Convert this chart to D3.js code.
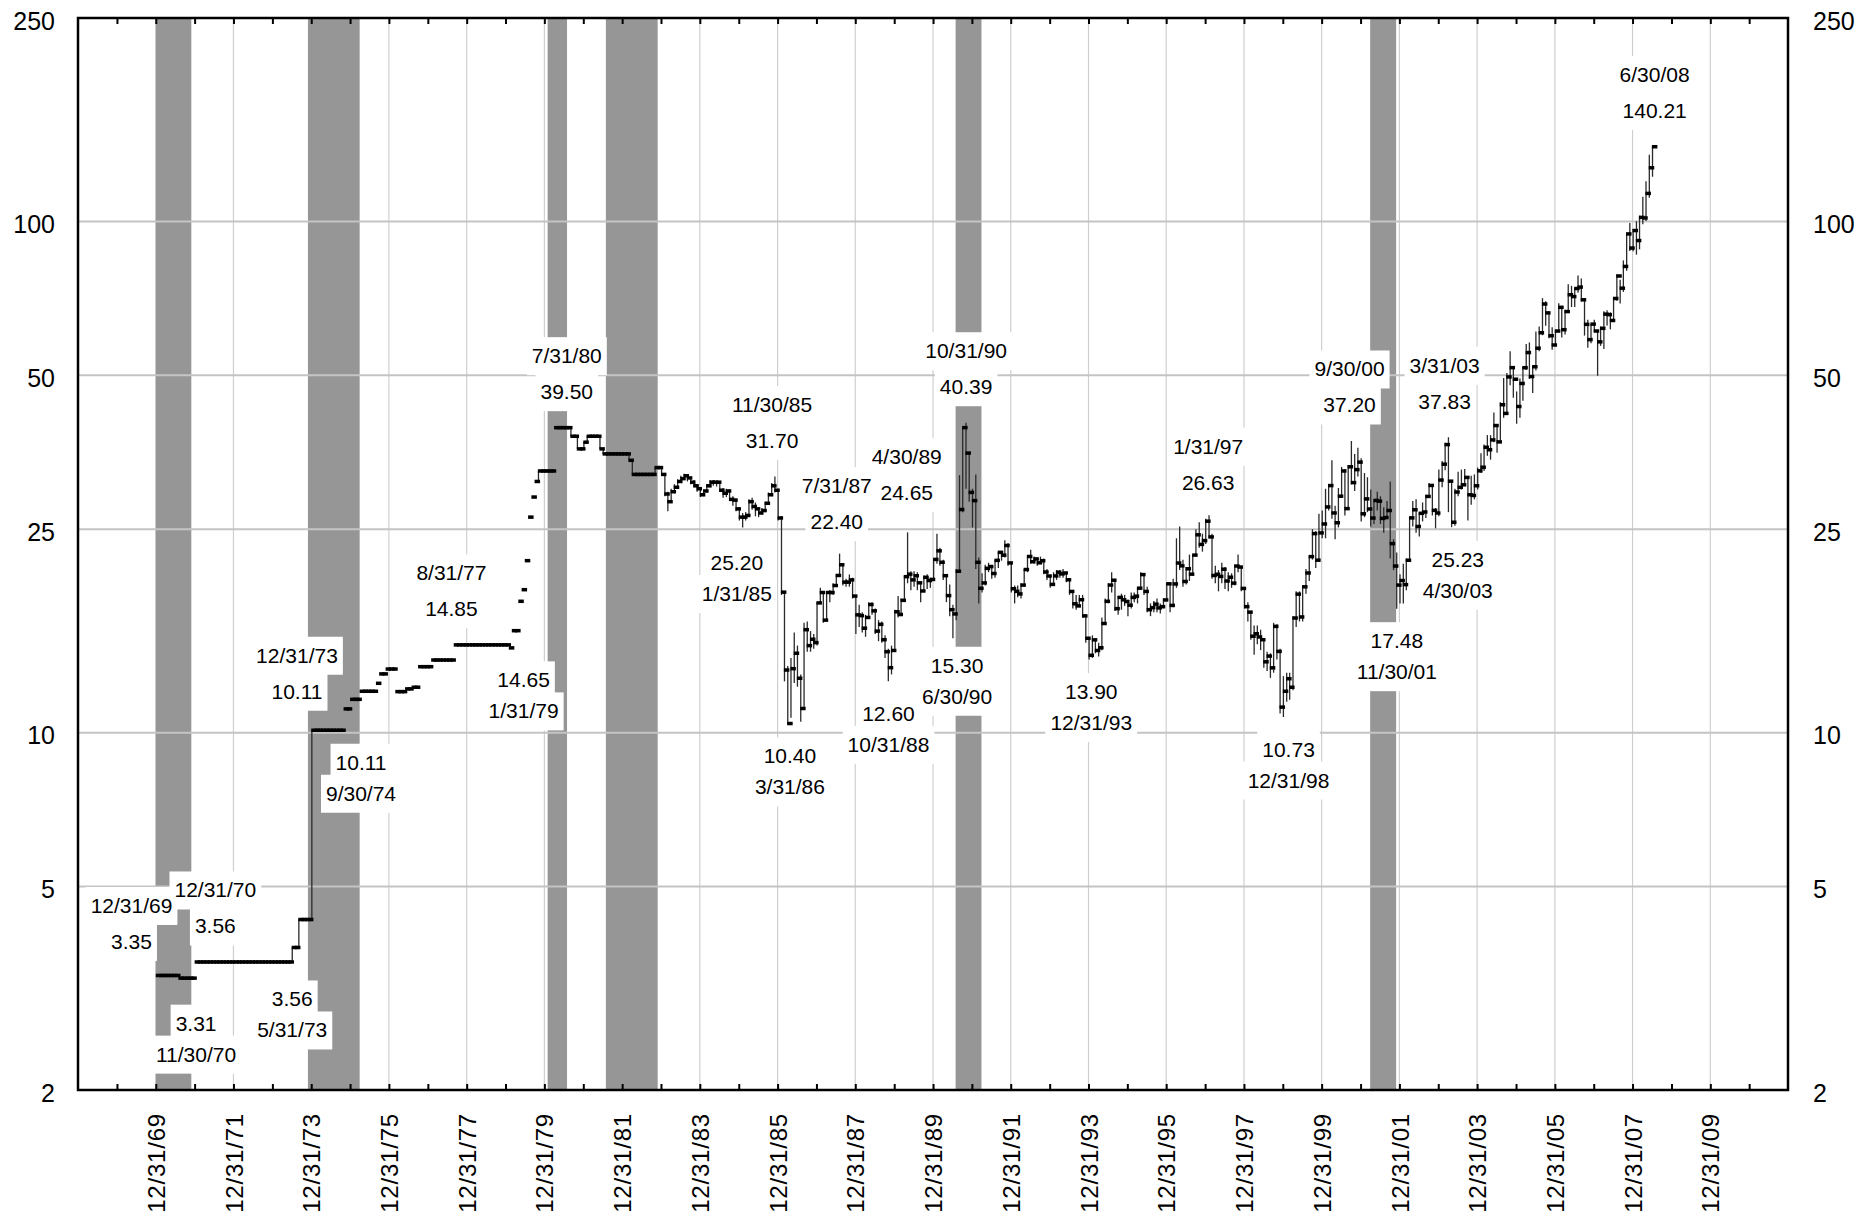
<!DOCTYPE html>
<html>
<head>
<meta charset="utf-8">
<script src="https://cdn.jsdelivr.net/npm/d3@7/dist/d3.min.js"></script>
<style>
  body { margin: 0; background: #fff; }
  svg { display: block; }
  text { font-family: "Liberation Sans", Arial, Helvetica, sans-serif; fill: #000; }
</style>
</head>
<body>
<svg id="chart" width="1860" height="1217"></svg>
<script>
// ---------------- DATA ----------------
// Monthly closing price, month-end, starting December 1969
const firstMonth = "1969-12";
const close = [
  3.35,
  3.35,3.35,3.35,3.35,3.35,3.35,3.31,3.31,3.31,3.31,3.31,3.56,
  3.56,3.56,3.56,3.56,3.56,3.56,3.56,3.56,3.56,3.56,3.56,3.56,
  3.56,3.56,3.56,3.56,3.56,3.56,3.56,3.56,3.56,3.56,3.56,3.56,
  3.56,3.56,3.56,3.56,3.56,3.80,3.80,4.31,4.31,4.31,4.31,10.11,
  10.11,10.11,10.11,10.11,10.11,10.11,10.11,10.11,10.11,11.13,11.13,11.62,
  11.62,11.62,12.05,12.05,12.05,12.05,12.05,12.49,13.03,13.03,13.32,13.32,
  13.32,12.03,12.03,12.03,12.18,12.18,12.27,12.27,13.46,13.46,13.46,13.46,
  13.87,13.87,13.87,13.87,13.87,13.87,13.87,14.85,14.85,14.85,14.85,14.85,
  14.85,14.85,14.85,14.85,14.85,14.85,14.85,14.85,14.85,14.85,14.85,14.85,
  14.65,15.83,15.83,18.07,19.04,21.70,26.40,28.90,31.00,32.50,32.50,32.50,
  32.50,32.50,39.50,39.50,39.50,39.50,39.50,38.00,38.00,35.90,35.90,37.00,
  38.00,38.00,38.00,38.00,35.90,35.10,35.10,35.10,35.10,35.10,35.10,35.10,
  35.10,34.10,32.00,32.00,32.00,32.00,32.00,32.00,32.00,33.00,33.00,32.00,
  29.3,28.3,29.6,30.2,31.0,31.4,31.8,31.5,30.9,30.4,30.0,29.2,
  29.7,30.4,30.9,30.9,30.9,29.8,29.4,29.7,28.6,28.5,27.4,26.4,
  26.4,26.6,28.3,27.7,27.4,26.9,27.2,28.1,29.2,30.4,29.8,26.3,
  18.83,13.26,10.42,13.34,14.30,12.78,11.15,15.90,14.80,15.23,15.00,17.94,
  18.80,16.60,18.80,18.80,19.40,20.30,21.30,19.70,19.70,19.90,18.50,17.00,
  16.94,16.01,16.80,17.81,17.31,15.80,16.29,15.20,14.40,13.40,14.48,17.24,
  17.03,18.15,20.19,20.42,19.90,20.27,19.64,18.93,20.13,19.84,19.94,21.82,
  22.68,21.54,20.28,18.54,17.40,17.07,20.69,27.32,39.51,35.23,29.51,28.44,
  21.54,19.16,19.63,20.96,21.13,20.48,21.73,22.53,22.24,23.23,21.48,19.12,
  18.90,18.68,19.44,20.85,22.11,21.60,21.87,21.49,21.69,20.62,20.25,19.50,
  20.26,20.60,20.44,20.53,19.91,18.89,17.87,17.70,18.20,16.92,15.30,14.17,
  15.19,14.48,14.66,16.35,18.07,19.44,19.87,17.48,18.39,18.19,18.05,17.76,
  18.39,18.49,19.17,20.38,18.89,17.40,17.56,17.84,17.54,17.64,18.18,19.55,
  17.74,19.54,21.47,21.20,19.76,20.92,20.42,22.25,24.38,23.35,23.75,25.92,
  24.15,20.30,20.41,20.21,20.88,19.80,20.14,19.61,21.18,21.08,19.15,17.64,
  17.21,15.44,15.61,15.39,15.20,13.76,14.12,13.39,16.14,14.42,11.22,12.05,
  12.75,12.27,16.76,18.66,16.84,19.29,20.53,22.10,24.51,21.75,24.59,25.60,
  27.64,30.43,26.90,25.74,29.01,32.50,27.43,33.12,30.84,32.70,33.82,26.80,
  28.66,27.39,26.29,28.46,28.37,26.25,26.35,27.20,23.43,21.18,19.44,19.84,
  19.48,21.74,26.31,27.29,25.31,26.86,27.02,28.98,30.45,27.22,26.89,31.20,
  33.51,36.60,31.04,25.80,29.56,30.19,30.54,31.57,29.20,29.11,30.41,32.52,
  33.05,36.16,35.76,37.38,39.88,37.05,43.80,42.12,49.64,51.76,49.13,43.45,
  48.20,51.75,55.40,49.72,51.97,56.50,60.57,68.94,66.24,59.76,57.32,61.04,
  67.92,61.41,66.63,71.88,71.29,73.93,74.40,70.26,62.91,58.73,62.97,61.05,
  58.14,61.79,65.87,65.71,64.01,70.68,78.21,74.04,81.66,94.53,88.71,95.98,
  91.75,101.84,101.58,113.46,127.35,140.00
];

// Monthly high / low from January 1983
const rangeFirstMonth = "1983-01";
const high = [
  32.0,29.6,30.0,30.6,31.3,31.8,32.1,32.0,31.6,31.2,30.6,30.1,
  29.9,30.6,31.2,31.2,31.0,31.0,30.1,30.0,29.9,29.0,28.7,27.6,
  26.9,27.0,28.6,28.8,28.2,27.6,27.5,28.3,29.5,30.8,31.7,30.0,
  26.5,18.9,13.5,14.0,15.7,14.8,13.0,16.4,16.5,15.8,15.6,18.0,
  19.2,18.8,18.9,19.0,19.6,20.4,22.4,21.4,20.0,20.4,20.1,18.6,
  17.8,17.2,17.0,18.0,18.0,17.5,16.6,16.5,15.5,14.6,14.8,17.4,
  18.5,18.3,20.3,24.65,20.7,20.7,20.6,19.7,20.3,20.4,20.1,21.9,
  24.5,23.0,21.8,20.4,19.5,17.8,20.9,31.9,39.6,40.39,35.4,30.0,
  32.0,22.0,20.5,21.3,21.5,21.3,21.8,22.6,22.6,23.8,23.5,21.5,
  19.4,19.4,19.6,20.9,22.2,22.8,22.1,21.9,22.1,21.9,20.9,20.3,
  20.6,20.8,20.8,20.9,20.6,20.0,18.9,18.6,18.6,18.6,17.0,15.3,
  15.5,15.2,15.0,16.8,18.3,19.6,20.6,19.9,18.5,18.7,18.6,18.2,
  18.8,18.8,19.2,20.6,20.4,19.3,17.9,18.1,18.3,17.9,18.3,19.6,
  19.7,20.0,24.0,25.3,21.8,21.1,22.3,22.3,25.0,25.8,24.5,26.2,
  26.63,24.5,21.2,20.8,21.5,21.1,20.6,20.5,21.3,22.3,21.2,19.2,
  18.0,17.3,16.2,16.2,15.9,15.2,14.4,14.3,16.4,16.3,14.6,12.9,
  13.1,13.1,16.9,18.9,18.9,19.4,20.9,22.2,25.0,24.8,26.8,27.2,
  30.0,30.5,34.1,27.8,30.1,33.1,32.8,33.4,37.2,35.1,36.1,34.4,
  32.2,31.6,29.9,28.5,29.6,29.0,27.6,28.4,31.0,23.9,22.5,20.4,
  21.4,21.9,26.4,28.4,28.6,27.0,28.2,29.2,30.8,30.6,27.5,32.7,
  34.0,36.9,37.83,31.0,30.0,32.4,32.7,32.8,31.6,31.8,32.0,33.0,
  35.2,36.6,38.2,38.2,42.3,39.9,44.3,49.4,50.5,55.7,52.0,46.5,
  49.3,52.0,57.6,58.0,52.2,60.9,62.3,70.8,69.8,66.3,62.1,61.4,
  69.2,68.0,67.2,75.4,74.8,74.0,78.4,77.3,70.8,64.2,63.0,64.2,
  61.3,62.3,66.7,67.0,66.4,70.7,78.8,76.9,83.9,94.7,99.3,96.7,
  100.1,102.6,111.8,119.9,135.1,140.21
];
const low = [
  29.0,27.1,28.2,29.4,30.0,30.8,31.2,31.0,30.6,30.2,29.6,28.9,
  29.0,29.5,30.2,30.4,30.3,29.6,28.8,28.9,28.4,27.8,27.1,26.0,
  25.2,26.0,26.5,27.3,26.5,26.4,26.7,27.0,28.0,29.0,29.5,26.0,
  18.6,12.6,10.4,10.7,12.5,12.3,10.5,11.1,14.4,14.4,14.6,14.8,
  17.9,16.4,16.5,18.0,18.6,19.3,20.2,19.4,19.3,19.3,18.3,15.6,
  16.1,15.7,15.4,16.7,17.0,15.6,15.1,15.0,14.0,12.6,13.0,14.4,
  16.8,16.9,18.0,19.6,19.0,19.3,19.0,18.0,18.9,19.1,19.2,19.8,
  21.4,21.2,19.9,18.0,16.9,15.3,16.6,20.7,27.0,30.0,28.3,25.2,
  20.9,17.9,18.8,19.4,20.6,20.0,20.1,21.0,21.7,22.0,21.2,18.8,
  17.9,18.4,18.3,19.3,20.6,21.4,21.4,21.2,21.4,20.4,19.9,19.2,
  19.4,19.9,20.1,20.1,19.7,18.6,17.5,17.4,17.6,16.8,15.0,13.9,
  14.0,14.3,14.1,14.5,16.3,17.9,18.8,17.3,17.0,17.4,17.7,16.9,
  17.5,18.0,17.9,19.1,18.6,17.2,16.9,17.2,17.2,17.1,17.5,18.1,
  17.2,17.6,19.2,20.8,19.3,19.5,19.8,20.3,22.2,23.0,22.6,23.4,
  24.0,20.0,19.6,18.9,19.6,19.1,18.9,19.2,19.4,20.6,18.9,17.5,
  16.5,15.2,14.2,14.9,14.5,13.4,13.2,12.8,13.1,13.9,10.9,10.73,
  11.5,11.6,12.1,16.1,16.5,16.5,18.7,19.8,21.8,21.0,21.6,24.0,
  24.0,27.2,26.2,23.9,25.2,28.8,26.6,27.4,30.6,29.7,31.7,25.9,
  26.4,27.0,25.3,25.6,27.2,25.6,24.6,26.3,21.9,20.8,17.48,17.9,
  17.9,19.0,21.7,25.3,24.6,24.2,25.9,26.3,28.8,26.6,25.1,26.5,
  30.2,32.6,27.0,25.23,25.4,29.0,29.9,30.7,26.0,27.9,28.6,29.9,
  32.2,32.5,34.8,34.2,37.0,35.3,37.0,41.3,42.0,47.8,45.2,40.2,
  41.3,44.6,51.2,49.2,46.2,51.1,55.7,59.9,62.5,59.1,56.1,57.4,
  60.8,59.3,60.1,66.4,68.0,68.0,72.5,69.7,59.8,56.6,57.8,60.7,
  49.9,57.1,56.3,62.6,61.5,64.2,70.0,69.1,72.8,80.1,87.5,87.4,
  86.1,88.2,98.7,100.2,111.2,122.3
];

// Months before 1983 that show a high-low range (month, low, high)
const earlyRanges = [
  ["1973-06",3.56,3.80],["1973-08",3.80,4.31],["1973-12",4.31,10.11],
  ["1979-10",31.0,32.5],["1980-08",38.0,39.5],["1980-10",35.9,38.0],
  ["1980-12",35.9,37.0],["1981-01",37.0,38.0],["1981-05",35.9,38.0],
  ["1981-06",35.1,35.9],["1982-02",34.1,35.1],["1982-03",32.0,34.1],
  ["1982-10",32.0,33.0],["1982-12",32.0,33.0]
];

// Recession periods (peak month, trough month)
const recessions = [
  ["1969-12","1970-11"],["1973-11","1975-03"],["1980-01","1980-07"],
  ["1981-07","1982-11"],["1990-07","1991-03"],["2001-03","2001-11"]
];

const yTickValues = [2, 5, 10, 25, 50, 100, 250];
const yGridValues = [5, 10, 25, 50, 100];
const xFirstYear = 1968, xLastYear = 2010;   // 12/31 ticks

// Annotated highs and lows
const annDate  = ["12/31/69","12/31/70","11/30/70","12/31/73","5/31/73","9/30/74","8/31/77","1/31/79",
                  "7/31/80","11/30/85","1/31/85","7/31/87","4/30/89","3/31/86","10/31/88","10/31/90",
                  "6/30/90","12/31/93","1/31/97","12/31/98","9/30/00","3/31/03","4/30/03","11/30/01","6/30/08"];
const annValue = [3.35,3.56,3.31,10.11,3.56,10.11,14.85,14.65,
                  39.50,31.70,25.20,22.40,24.65,10.40,12.60,40.39,
                  15.30,13.90,26.63,10.73,37.20,37.83,25.23,17.48,140.21];
const annKind  = ["high","high","low","high","low","low","high","low",
                  "high","high","low","high","high","low","low","high",
                  "low","low","high","low","high","high","low","low","high"];

// ---------------- LAYOUT ----------------
const W = 1860, H = 1217;
const M = { left: 78, right: 1788, top: 18, bottom: 1090 };
const annShift = [[-27,2],[18,0],[2,13],[-17,-3],[1,5],[18,0],[-5,0],[12,0],
                  [-3,0],[-5,0],[-8,3],[-5,4],[-3,-4],[0,0],[-2,0],[-2,0],
                  [2,-5],[0,0],[-3,3],[3,0],[-4,0],[-6,0],[4,0],[-2,0],[0,0]];
const dashW = 5.5, dashH = 3.5;

const svg = d3.select("#chart");
svg.append("rect").attr("width", W).attr("height", H).attr("fill", "#fff");

const x = d3.scaleTime()
  .domain([new Date(xFirstYear - 1, 11, 31), new Date(xLastYear + 1, 11, 31)])
  .range([M.left, M.right]);
const y = d3.scaleLog().domain([2, 250]).range([M.bottom, M.top]);

const monthEnd = s => { const [yy, mm] = s.split("-").map(Number); return new Date(yy, mm, 0); };
const [fy, fm] = firstMonth.split("-").map(Number);
const months = close.map((_, i) => new Date(fy, fm + i, 0));
const [ry, rm] = rangeFirstMonth.split("-").map(Number);
const rs = (ry - fy) * 12 + (rm - fm);

// vertical grid (under the recession bands)
const yearTicks = d3.range(xFirstYear, xLastYear + 1).map(yy => new Date(yy, 11, 31));
const labelTicks = yearTicks.filter(d => d.getFullYear() % 2 === 1);
svg.append("g").selectAll("line").data(labelTicks).join("line")
  .attr("x1", d => x(d)).attr("x2", d => x(d))
  .attr("y1", M.top).attr("y2", M.bottom)
  .attr("stroke", "#cfcfcf").attr("stroke-width", 1.2);

// recession bands
svg.append("g").selectAll("rect").data(recessions).join("rect")
  .attr("x", d => x(monthEnd(d[0])))
  .attr("width", d => x(monthEnd(d[1])) - x(monthEnd(d[0])))
  .attr("y", M.top).attr("height", M.bottom - M.top)
  .attr("fill", "#969696");

// horizontal grid (over the bands)
svg.append("g").selectAll("line").data(yGridValues).join("line")
  .attr("x1", M.left).attr("x2", M.right)
  .attr("y1", d => y(d)).attr("y2", d => y(d))
  .attr("stroke", "#c4c4c4").attr("stroke-width", 2);

// annotations (boxes then text)
const boxG = svg.append("g");
const annG = svg.append("g");
const fmt2 = d3.format(".2f");
const parseAnn = d3.timeParse("%m/%d/%y");
annDate.forEach((ds, k) => {
  const px = x(parseAnn(ds)) + dashW / 2 + annShift[k][0];
  const py = y(annValue[k]) + annShift[k][1];
  const lines = annKind[k] === "high"
    ? [[ds, py - 72], [fmt2(annValue[k]), py - 36]]
    : [[fmt2(annValue[k]), py + 32], [ds, py + 63]];
  lines.forEach(([txt, cy]) => {
    const t = annG.append("text")
      .attr("x", px).attr("y", cy + 7.5)
      .attr("text-anchor", "middle")
      .attr("font-size", 21)
      .text(txt);
    const w = t.node().getComputedTextLength();
    boxG.append("rect")
      .attr("x", px - w / 2 - 5).attr("width", w + 10)
      .attr("y", cy - 18.5).attr("height", 38)
      .attr("fill", "#fff");
  });
});

// data: high-low ranges
const ranges = earlyRanges.map(([m, lo, hi]) => ({ d: monthEnd(m), lo, hi }))
  .concat(high.map((h, k) => ({ d: months[rs + k], lo: low[k], hi: h })));
svg.append("g").selectAll("line").data(ranges).join("line")
  .attr("x1", d => x(d.d) + 0.6).attr("x2", d => x(d.d) + 0.6)
  .attr("y1", d => y(d.hi)).attr("y2", d => y(d.lo))
  .attr("stroke", "#2a2a2a").attr("stroke-width", 1.3);

// data: closing dashes
svg.append("g").selectAll("rect").data(close).join("rect")
  .attr("x", (d, i) => x(months[i]))
  .attr("width", dashW)
  .attr("y", d => y(d) - dashH / 2)
  .attr("height", dashH)
  .attr("fill", "#000");

// axes ticks (inward)
svg.append("g").attr("transform", `translate(0,${M.bottom})`)
  .call(d3.axisBottom(x).tickValues(yearTicks).tickSize(-6).tickFormat(""))
  .call(g => { g.select(".domain").remove(); g.selectAll("line").attr("stroke", "#000").attr("stroke-width", 2); });
svg.append("g").attr("transform", `translate(0,${M.top})`)
  .call(d3.axisTop(x).tickValues(yearTicks).tickSize(-6).tickFormat(""))
  .call(g => { g.select(".domain").remove(); g.selectAll("line").attr("stroke", "#000").attr("stroke-width", 2); });

// frame
svg.append("rect")
  .attr("x", M.left).attr("y", M.top)
  .attr("width", M.right - M.left).attr("height", M.bottom - M.top)
  .attr("fill", "none").attr("stroke", "#000").attr("stroke-width", 2.5);

// y labels both sides
const yFmt = d3.format("d");
[[d3.axisLeft, M.left, 23], [d3.axisRight, M.right, 25]].forEach(([ax, pos, pad]) => {
  svg.append("g").attr("transform", `translate(${pos},0)`)
    .call(ax(y).tickValues(yTickValues).tickFormat(yFmt).tickSize(0).tickPadding(pad))
    .call(g => {
      g.select(".domain").remove();
      g.selectAll("text")
        .attr("font-size", 25).attr("dy", "0.45em")
        .attr("font-family", '"Liberation Sans", Arial, sans-serif')
        .attr("fill", "#000");
    });
});

// x labels (rotated)
const xFmt = d3.timeFormat("%m/%d/%y");
svg.append("g").selectAll("text").data(labelTicks).join("text")
  .attr("transform", d => `translate(${x(d)},1113) rotate(-90)`)
  .attr("text-anchor", "end")
  .attr("dy", "0.38em")
  .attr("font-size", 24)
  .attr("letter-spacing", "0.8px")
  .text(d => xFmt(d));
</script>
</body>
</html>
